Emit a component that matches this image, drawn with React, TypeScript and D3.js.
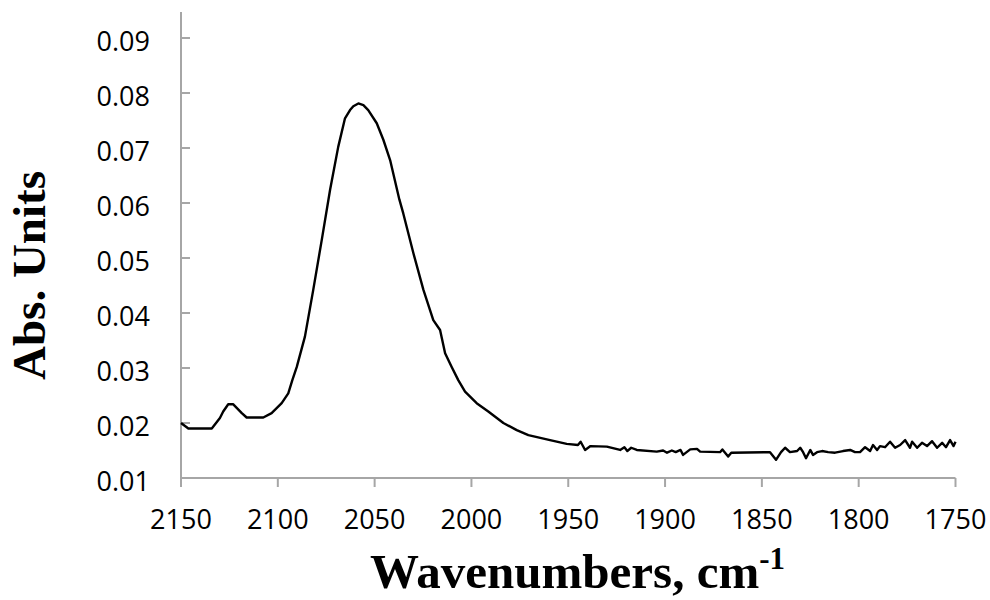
import React from "react";
import * as d3 from "d3";

// Spectrum: wavenumber (cm-1) and absorbance readings
const wavenumbers: number[] = [
  2150, 2146.2, 2134.1, 2129.9, 2128.2, 2125.6, 2123.0, 2118.6, 2116.1, 2107.5,
  2103.2, 2098.0, 2094.6, 2092.5, 2090.2, 2086.0, 2081.7, 2077.3, 2073.0, 2068.8,
  2065.3, 2062.7, 2061.0, 2058.4, 2055.8, 2053.3, 2048.9, 2045.5, 2042.0, 2037.2,
  2035.2, 2030.0, 2024.8, 2019.7, 2016.2, 2013.6, 2010.2, 2006.8, 2003.3, 1997.3,
  1991.3, 1983.5, 1976.6, 1970.6, 1959.4, 1950.8, 1945.0, 1943.6, 1941.3, 1938.5,
  1930.1, 1923.2, 1921.0, 1919.5, 1917.5, 1914.6, 1904.3, 1901.0, 1899.0, 1896.5,
  1894.5, 1892.0, 1890.7, 1887.0, 1883.5, 1881.9, 1871.6, 1870.4, 1867.4, 1865.8,
  1845.8, 1842.7, 1840.1, 1838.0, 1835.5, 1831.8, 1830.2, 1828.7, 1827.2, 1825.0,
  1823.6, 1821.5, 1818.9, 1815.8, 1812.2, 1808.1, 1804.4, 1801.9, 1799.3, 1796.7,
  1794.1, 1792.6, 1790.5, 1789.0, 1786.4, 1783.8, 1781.2, 1778.6, 1776.0, 1773.5,
  1772.4, 1769.8, 1767.3, 1764.7, 1762.1, 1759.5, 1756.9, 1754.9, 1752.8, 1751.0,
  1750.0,
];

const absorbance: number[] = [
  0.0200, 0.0190, 0.0190, 0.0209, 0.0221, 0.0234, 0.0234, 0.0218, 0.0210, 0.0210,
  0.0218, 0.0236, 0.0254, 0.0278, 0.0302, 0.0357, 0.0442, 0.0533, 0.0624, 0.0702,
  0.0754, 0.0769, 0.0776, 0.0781, 0.0778, 0.0769, 0.0745, 0.0715, 0.0678, 0.0606,
  0.0581, 0.0509, 0.0442, 0.0387, 0.0369, 0.0327, 0.0302, 0.0278, 0.0257, 0.0236,
  0.0221, 0.0200, 0.0187, 0.0178, 0.0169, 0.0162, 0.0160, 0.0166, 0.0151, 0.0158,
  0.0157, 0.0151, 0.0156, 0.0149, 0.0155, 0.0151, 0.0148, 0.0150, 0.0146, 0.0150,
  0.0147, 0.0151, 0.0142, 0.0152, 0.0153, 0.0148, 0.0147, 0.0152, 0.0139, 0.0146,
  0.0147, 0.0133, 0.0147, 0.0155, 0.0147, 0.0149, 0.0155, 0.0147, 0.0136, 0.0151,
  0.0142, 0.0147, 0.0149, 0.0147, 0.0146, 0.0149, 0.0151, 0.0147, 0.0147, 0.0156,
  0.0149, 0.0160, 0.0151, 0.0158, 0.0156, 0.0166, 0.0155, 0.0160, 0.0169, 0.0155,
  0.0166, 0.0155, 0.0164, 0.0158, 0.0167, 0.0155, 0.0164, 0.0156, 0.0169, 0.0158,
  0.0166,
];

const xTicks: number[] = [2150, 2100, 2050, 2000, 1950, 1900, 1850, 1800, 1750];
const yTicks: number[] = [0.01, 0.02, 0.03, 0.04, 0.05, 0.06, 0.07, 0.08, 0.09];

const W = 990;
const H = 600;
const plot = { left: 181, right: 955.5, top: 38, bottom: 478, axisTop: 12 };
const axisColor = "#A6A6A6";
const tickFont = "'Open Sans', 'Noto Sans', sans-serif";
const titleFont = "'Liberation Serif', 'Times New Roman', serif";

export default function App() {
  const x = d3.scaleLinear().domain([2150, 1750]).range([plot.left, plot.right]);
  const y = d3.scaleLinear().domain([0.01, 0.09]).range([plot.bottom, plot.top]);

  const points: [number, number][] = wavenumbers.map((w, i) => [w, absorbance[i]]);
  const line = d3
    .line<[number, number]>()
    .x((d) => x(d[0]))
    .y((d) => y(d[1]));

  return (
    <svg
      width={W}
      height={H}
      viewBox={`0 0 ${W} ${H}`}
      style={{ position: "absolute", left: 0, top: 0, background: "#fff" }}
    >
      {/* y axis */}
      <line
        x1={plot.left}
        x2={plot.left}
        y1={plot.axisTop}
        y2={plot.bottom}
        stroke={axisColor}
        strokeWidth={2}
      />
      {yTicks.map((t) => (
        <g key={`y${t}`}>
          <line
            x1={plot.left}
            x2={plot.left + 9}
            y1={y(t)}
            y2={y(t)}
            stroke={axisColor}
            strokeWidth={2}
          />
          <text
            x={150}
            y={y(t) + 3.5}
            dy="0.36em"
            textAnchor="end"
            fontFamily={tickFont}
            fontSize={27}
            fill="#000"
          >
            {t.toFixed(2)}
          </text>
        </g>
      ))}

      {/* x axis */}
      <line
        x1={plot.left}
        x2={plot.right}
        y1={plot.bottom}
        y2={plot.bottom}
        stroke={axisColor}
        strokeWidth={2}
      />
      {xTicks.map((t) => (
        <g key={`x${t}`}>
          <line
            x1={x(t)}
            x2={x(t)}
            y1={plot.bottom}
            y2={plot.bottom + 9}
            stroke={axisColor}
            strokeWidth={2}
          />
          <text
            x={x(t)}
            y={529}
            textAnchor="middle"
            fontFamily={tickFont}
            fontSize={27}
            fill="#000"
          >
            {t}
          </text>
        </g>
      ))}

      {/* spectrum */}
      <path
        d={line(points) ?? ""}
        fill="none"
        stroke="#000"
        strokeWidth={2.4}
        strokeLinejoin="round"
      />

      {/* axis titles */}
      <text
        x={370}
        y={588}
        fontFamily={titleFont}
        fontWeight="bold"
        fontSize={49}
        fill="#000"
      >
        Wavenumbers, cm
        <tspan dy={-19} fontSize={31}>
          -1
        </tspan>
      </text>
      <text
        transform="translate(45,275.5) rotate(-90)"
        textAnchor="middle"
        fontFamily={titleFont}
        fontWeight="bold"
        fontSize={47}
        fill="#000"
      >
        Abs. Units
      </text>
    </svg>
  );
}
